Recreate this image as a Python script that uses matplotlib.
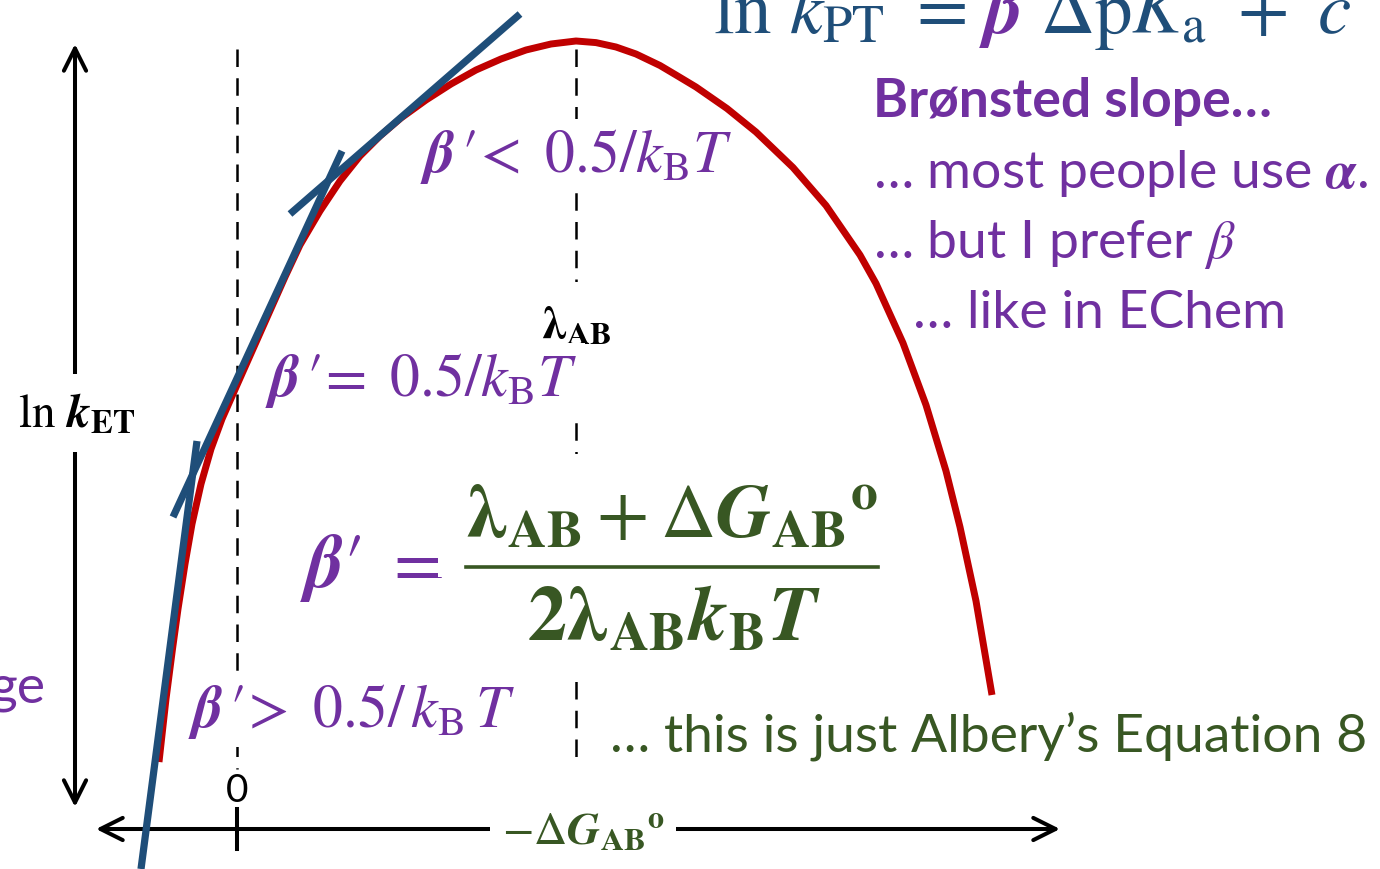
import matplotlib
matplotlib.use("Agg")
import matplotlib.pyplot as plt

plt.rcParams['font.family'] = ['Lato', 'DejaVu Sans']
plt.rcParams['mathtext.fontset'] = 'stix'

PURPLE = '#7030A0'
GREEN = '#385723'
BLUE = '#1F4E79'
RED = '#C00000'

# --- rate curve (ln k_ET vs -dG), canvas units, y grows downward ---
curve_x = [159, 166, 172.5, 178, 185, 192, 201, 211, 222, 237, 261, 285, 300, 320, 340,
           360, 380, 401, 426, 451, 476, 501, 526, 551, 576,
           596, 616, 636, 660, 676, 696, 727, 756, 793, 826, 860, 876, 903, 926, 946,
           960, 976, 992]
curve_y = [763, 700, 650, 610, 565, 525, 485, 450, 420, 386, 332, 278, 246, 212, 182,
           157, 137, 119, 101, 85, 71, 60, 51, 45, 42,
           43.6, 48, 55, 66.5, 76, 88, 109.5, 133, 168.5, 206.5, 256, 284.5, 344, 406, 472,
           528, 602, 696]

# tangent lines (start, end)
tangent_top_x, tangent_top_y = [290, 520], [215, 15]
tangent_mid_x, tangent_mid_y = [342, 173], [152, 518]
tangent_low_x, tangent_low_y = [197, 141], [442, 870]

# reference positions on the -dG axis
zero_x = 237
lambda_x = 576

fig = plt.figure(figsize=(13.8, 8.7), dpi=100)
ax = fig.add_axes([0, 0, 1, 1])
ax.set_xlim(0, 1380)
ax.set_ylim(870, 0)
ax.axis('off')

# dashed guides at 0 and lambda
ax.plot([zero_x, zero_x], [50, 770], color='k', lw=1.8, ls=(0, (7, 4.5)), zorder=1)
ax.plot([lambda_x, lambda_x], [50, 760], color='k', lw=1.8, ls=(0, (7, 4.5)), zorder=1)

# axes arrows
arrow_kw = dict(arrowstyle='<->,head_length=0.8,head_width=0.4', lw=2.9, color='k',
                shrinkA=0, shrinkB=0, mutation_scale=20)
ax.annotate('', xy=(75, 45), xytext=(75, 808), arrowprops=arrow_kw, zorder=1)
ax.annotate('', xy=(96, 830), xytext=(1060, 830), arrowprops=arrow_kw, zorder=1)
ax.plot([zero_x, zero_x], [810, 850], color='k', lw=2.9, zorder=1)

# curve + tangents
ax.plot(curve_x, curve_y, color=RED, lw=5.0, solid_capstyle='butt',
        solid_joinstyle='round', zorder=5)
for tx, ty in [(tangent_top_x, tangent_top_y), (tangent_mid_x, tangent_mid_y),
               (tangent_low_x, tangent_low_y)]:
    ax.plot(tx, ty, color=BLUE, lw=5.2, solid_capstyle='butt', zorder=6)

white = dict(facecolor='white', edgecolor='none', boxstyle='square,pad=0.12')

# axis labels
ax.text(18, 428, r'$\ln\,\boldsymbol{k}_{\mathbf{ET}}$', fontsize=34, color='k',
        ha='left', va='baseline', zorder=3,
        bbox=dict(facecolor='white', edgecolor='none', boxstyle='square,pad=0.35'))
ax.text(583, 845, r'$-\Delta\boldsymbol{G}_{\mathbf{AB}}{}^{\mathbf{o}}$', fontsize=33,
        color=GREEN, ha='center', va='baseline', zorder=3,
        bbox=dict(facecolor='white', edgecolor='none', boxstyle='square,pad=0.25'))
ax.text(zero_x, 802, '0', fontsize=28, color='k', ha='center', va='baseline', zorder=3)
ax.text(lambda_x, 338, r'$\boldsymbol{\lambda}_{\mathbf{AB}}$', fontsize=33, color='k',
        ha='center', va='baseline', zorder=3,
        bbox=dict(facecolor='white', edgecolor='none', boxstyle='square,pad=0.45'))

# slope regions
ax.text(420, 172, r"$\boldsymbol{\beta}\,\prime\!<\ 0.5/k_{\mathrm{B}}T$", fontsize=43,
        color=PURPLE, ha='left', va='baseline', zorder=3, bbox=white)
ax.text(265, 396, r"$\boldsymbol{\beta}\,\prime\!=\ 0.5/k_{\mathrm{B}}T$", fontsize=43,
        color=PURPLE, ha='left', va='baseline', zorder=3, bbox=white)
ax.text(188, 727, r"$\boldsymbol{\beta}\,\prime\!>\ 0.5/\,k_{\mathrm{B}}\,T$", fontsize=43,
        color=PURPLE, ha='left', va='baseline', zorder=3, bbox=white)

# beta' formula
ax.text(300, 587, r"$\boldsymbol{\beta}\prime\ =$", fontsize=54, color=PURPLE,
        ha='left', va='baseline', zorder=3)
ax.text(671, 538, r'$\boldsymbol{\lambda}_{\mathbf{AB}} + \Delta\boldsymbol{G}_{\mathbf{AB}}{}^{\mathbf{o}}$',
        fontsize=55, color=GREEN, ha='center', va='baseline', zorder=3,
        bbox=dict(facecolor='white', edgecolor='none', boxstyle='square,pad=0.35'))
ax.text(674, 641, r'$\mathbf{2}\boldsymbol{\lambda}_{\mathbf{AB}}\boldsymbol{k}_{\mathbf{B}}\boldsymbol{T}$',
        fontsize=56, color=GREEN, ha='center', va='baseline', zorder=3,
        bbox=dict(facecolor='white', edgecolor='none', boxstyle='square,pad=0.35'))
ax.plot([466, 878], [568, 568], color=GREEN, lw=2.6, zorder=4)

# notes
note_size = 38.5
ax.text(873, 117, 'Brønsted slope…', fontsize=note_size, fontweight='bold', color=PURPLE,
        ha='left', va='baseline')
ax.text(873, 188, r'… most people use $\boldsymbol{\alpha}$.', fontsize=note_size,
        color=PURPLE, ha='left', va='baseline')
ax.text(873, 258, r'… but I prefer $\beta$', fontsize=note_size, color=PURPLE,
        ha='left', va='baseline')
ax.text(913, 328, '… like in EChem', fontsize=note_size, color=PURPLE, ha='left',
        va='baseline')
ax.text(610, 752, '… this is just Albery’s Equation 8', fontsize=note_size, color=GREEN,
        ha='left', va='baseline')
ax.text(45, 703, 'ge', fontsize=note_size, color=PURPLE, ha='right', va='baseline')

# header equation, pieces in different colours
renderer = fig.canvas.get_renderer()
x = 713
for s, c in [(r'$\ln\,k_{\mathrm{PT}}\ =$', BLUE), (r'$\ \boldsymbol{\beta}$', PURPLE),
             (r'$\ \Delta\mathrm{p}K_{\mathrm{a}}\ +\ c$', BLUE)]:
    t = ax.text(x, 33, s, fontsize=54, color=c, ha='left', va='baseline')
    bb = t.get_window_extent(renderer)
    x = ax.transData.inverted().transform((bb.x1, bb.y0))[0]

fig.savefig('out.png', dpi=100)
